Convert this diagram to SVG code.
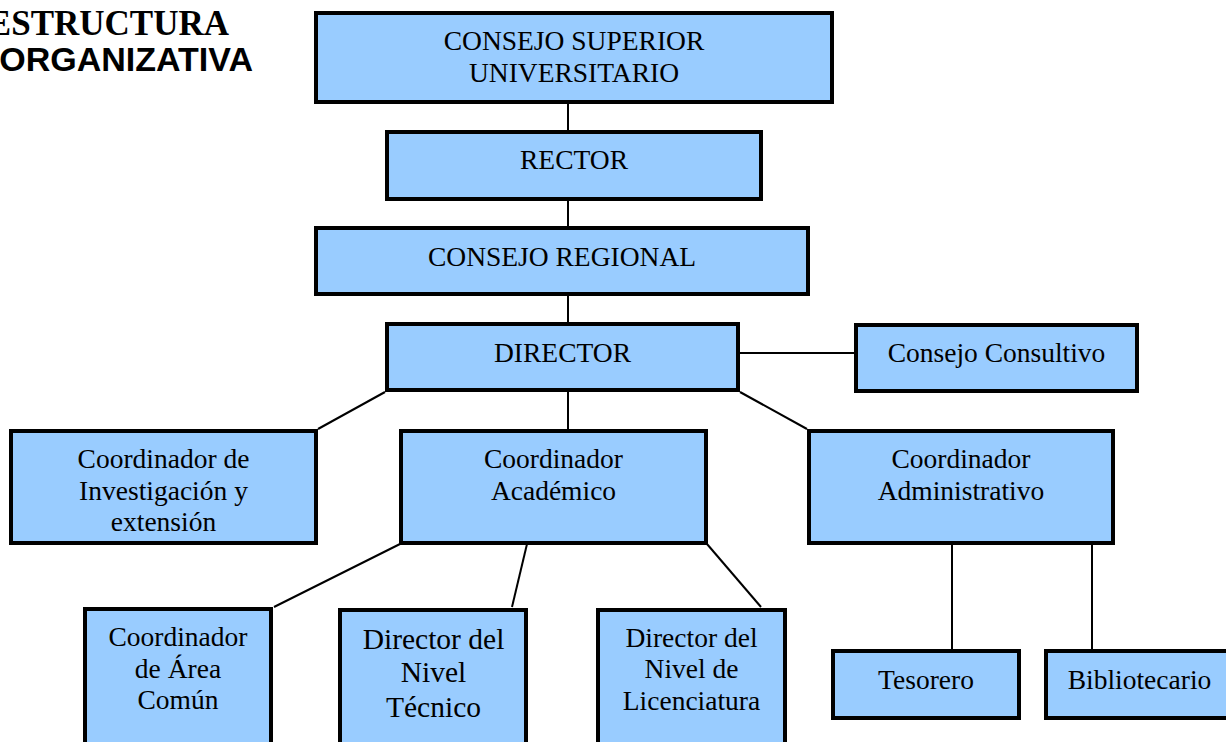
<svg xmlns="http://www.w3.org/2000/svg" width="1226" height="742" viewBox="0 0 1226 742">
<style>
.box{fill:#99ccff;stroke:#000;stroke-width:4}
.t{font-family:"Liberation Serif","Times New Roman",serif;font-size:27.5px;fill:#000;text-anchor:middle}
.tb{font-size:29.5px}
.conn line{stroke:#000;stroke-width:2}
</style>
<rect width="1226" height="742" fill="#fff"/>
<g id="title">
<text x="229" y="35" text-anchor="end" font-family="Liberation Serif,'Times New Roman',serif" font-weight="bold" font-size="35">ESTRUCTURA</text>
<text x="253" y="71" text-anchor="end" font-family="Liberation Sans,Arial,sans-serif" font-weight="bold" font-size="34">ORGANIZATIVA</text>
</g>
<g id="connectors" class="conn">
<line x1="568" y1="104" x2="568" y2="130"/>
<line x1="568" y1="201" x2="568" y2="226"/>
<line x1="568" y1="296" x2="568" y2="322"/>
<line x1="740" y1="353" x2="854" y2="353"/>
<line x1="568" y1="392" x2="568" y2="429"/>
<line x1="385" y1="392" x2="318" y2="429"/>
<line x1="740" y1="392" x2="807" y2="429"/>
<line x1="400" y1="544" x2="274" y2="607"/>
<line x1="527" y1="544" x2="512" y2="607"/>
<line x1="707" y1="544" x2="761" y2="607"/>
<line x1="952" y1="545" x2="952" y2="649"/>
<line x1="1092" y1="545" x2="1092" y2="649"/>
</g>
<g id="consejo-superior">
<rect class="box" x="316" y="13" width="516" height="89"/>
<text class="t" x="574" y="50">CONSEJO SUPERIOR</text>
<text class="t" x="574" y="82">UNIVERSITARIO</text>
</g>
<g id="rector">
<rect class="box" x="387" y="132" width="374" height="67"/>
<text class="t" x="574" y="169">RECTOR</text>
</g>
<g id="consejo-regional">
<rect class="box" x="316" y="228" width="492" height="66"/>
<text class="t" x="562" y="266">CONSEJO REGIONAL</text>
</g>
<g id="director">
<rect class="box" x="387" y="324" width="351" height="66"/>
<text class="t" x="562.5" y="362">DIRECTOR</text>
</g>
<g id="consejo-consultivo">
<rect class="box" x="856" y="325" width="281" height="66"/>
<text class="t" x="996.5" y="362">Consejo Consultivo</text>
</g>
<g id="coord-investigacion">
<rect class="box" x="11" y="431" width="305" height="112"/>
<text class="t" x="163.5" y="468">Coordinador de</text>
<text class="t" x="163.5" y="500">Investigación y</text>
<text class="t" x="163.5" y="531">extensión</text>
</g>
<g id="coord-academico">
<rect class="box" x="401" y="431" width="305" height="112"/>
<text class="t" x="553.5" y="468">Coordinador</text>
<text class="t" x="553.5" y="500">Académico</text>
</g>
<g id="coord-administrativo">
<rect class="box" x="809" y="431" width="304" height="112"/>
<text class="t" x="961" y="468">Coordinador</text>
<text class="t" x="961" y="500">Administrativo</text>
</g>
<g id="coord-area-comun">
<rect class="box" x="85" y="609" width="186" height="200"/>
<text class="t" x="178" y="646">Coordinador</text>
<text class="t" x="178" y="678">de Área</text>
<text class="t" x="178" y="709">Común</text>
</g>
<g id="director-tecnico">
<rect class="box" x="340" y="610" width="186" height="200"/>
<text class="t tb" x="433.5" y="649">Director del</text>
<text class="t tb" x="433.5" y="682">Nivel</text>
<text class="t tb" x="433.5" y="717">Técnico</text>
</g>
<g id="director-licenciatura">
<rect class="box" x="598" y="610" width="187" height="200"/>
<text class="t" x="691.5" y="647">Director del</text>
<text class="t" x="691.5" y="678">Nivel de</text>
<text class="t" x="691.5" y="710">Licenciatura</text>
</g>
<g id="tesorero">
<rect class="box" x="833" y="651" width="186" height="67"/>
<text class="t" x="926" y="689">Tesorero</text>
</g>
<g id="bibliotecario">
<rect class="box" x="1046" y="651" width="187" height="67"/>
<text class="t" x="1139.5" y="689">Bibliotecario</text>
</g>
</svg>
